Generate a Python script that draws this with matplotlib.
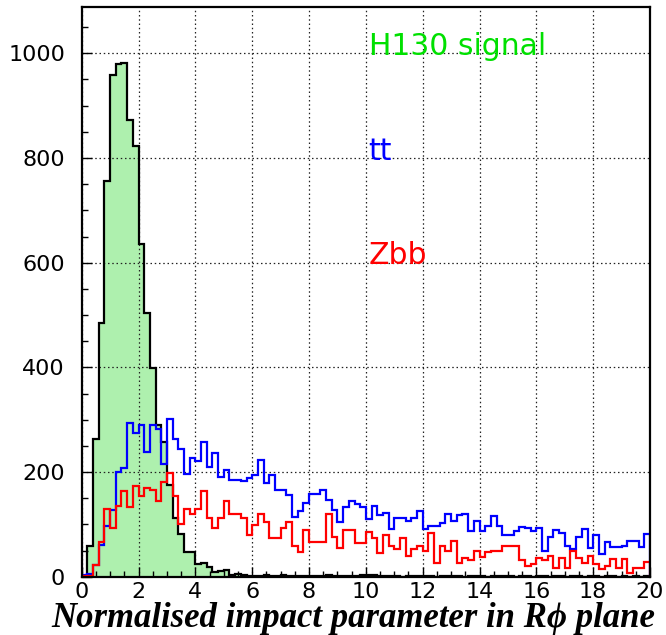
import matplotlib
matplotlib.use("Agg")
import matplotlib.pyplot as plt
import numpy as np
from matplotlib.ticker import MultipleLocator

# 100 bins of width 0.2 from 0 to 20
edges = np.linspace(0, 20, 101)

# H130 signal
signal = [0, 59, 263, 484, 756, 958, 979, 981, 872, 823,
          635, 504, 398, 290, 258, 175, 113, 81, 48, 48,
          25, 27, 19, 9, 10, 13, 4, 5, 4, 2,
          1, 2, 3, 1, 2, 3, 1, 2, 1, 1,
          2, 1, 1, 3, 1, 2, 1, 2, 1, 3,
          4, 3, 1, 2, 1, 2, 0, 1, 2, 1,
          1, 2, 0, 1, 2, 1, 1, 0, 2, 1,
          1, 0, 2, 1, 1, 2, 0, 1, 1, 0,
          1, 2, 0, 1, 1, 0, 1, 2, 0, 1,
          1, 0, 1, 1, 0, 2, 0, 1, 0, 1]

# tt background
ttbar = [3, 5, 22, 61, 96, 128, 201, 207, 293, 275,
         290, 238, 290, 283, 215, 302, 263, 244, 197, 227,
         221, 258, 210, 237, 190, 204, 185, 185, 182, 188,
         194, 223, 179, 194, 166, 166, 157, 115, 126, 141,
         158, 158, 166, 146, 128, 105, 133, 144, 139, 134,
         111, 135, 118, 122, 91, 113, 113, 107, 113, 126,
         92, 97, 97, 103, 120, 107, 117, 120, 88, 107,
         87, 97, 116, 96, 80, 80, 88, 95, 93, 88,
         94, 50, 75, 90, 83, 58, 53, 75, 91, 55,
         80, 44, 67, 56, 56, 58, 68, 69, 56, 82]

# Zbb background
zbb = [1, 2, 22, 66, 130, 94, 135, 164, 134, 174,
       155, 169, 166, 144, 180, 199, 155, 100, 130, 120,
       129, 164, 113, 94, 113, 144, 120, 120, 112, 80,
       99, 120, 104, 73, 73, 94, 105, 59, 48, 90,
       66, 66, 66, 119, 75, 55, 90, 90, 65, 65,
       85, 74, 46, 80, 58, 53, 74, 40, 53, 59,
       50, 83, 27, 59, 50, 68, 27, 35, 32, 50,
       37, 47, 50, 50, 59, 59, 59, 31, 21, 25,
       36, 32, 40, 17, 36, 17, 50, 36, 26, 40,
       24, 15, 21, 34, 16, 34, 8, 16, 16, 29]

plt.rcParams['hatch.linewidth'] = 0.9
plt.rcParams['hatch.color'] = '#10dd10'

fig = plt.figure(figsize=(6.66, 6.35), dpi=100)
ax = fig.add_axes([0.1227, 0.0918, 0.8533, 0.8976])

# filled signal with hatched pattern, outline drawn separately
ax.stairs(signal, edges, fill=True, facecolor='#aef0ae', edgecolor='none',
          hatch='--------', zorder=1)
ax.grid(True, which='major', color='#222222', linestyle=(0, (1.2, 2.2)),
        linewidth=0.9, zorder=2)
ax.set_axisbelow(False)
ax.stairs(signal, edges, color='black', linewidth=1.6, zorder=3)
ax.stairs(ttbar, edges, color='#0000ff', linewidth=1.6, zorder=4)
ax.stairs(zbb, edges, color='#ff0000', linewidth=1.6, zorder=5)

ax.set_xlim(0, 20)
ax.set_ylim(0, 1089)
ax.xaxis.set_major_locator(MultipleLocator(2))
ax.xaxis.set_minor_locator(MultipleLocator(0.5))
ax.yaxis.set_major_locator(MultipleLocator(200))
ax.yaxis.set_minor_locator(MultipleLocator(50))
ax.tick_params(which='both', direction='in', top=False, right=False,
               width=1.0, color='black')
ax.tick_params(which='major', length=7)
ax.tick_params(which='minor', length=4)
ax.tick_params(axis='x', which='major', pad=4, labelsize=16)
ax.tick_params(axis='y', which='major', pad=12, labelsize=16)
for lab in ax.get_xticklabels() + ax.get_yticklabels():
    lab.set_family('DejaVu Sans')
for sp in ax.spines.values():
    sp.set_linewidth(1.6)
    sp.set_zorder(6)

ax.text(10.1, 997, 'H130 signal', color='#00e000', fontsize=21.5,
        family='DejaVu Sans', va='baseline', zorder=7)
ax.text(10.1, 797, 'tt', color='#0000ff', fontsize=21.5,
        family='DejaVu Sans', va='baseline', zorder=7)
ax.text(10.1, 597, 'Zbb', color='#ff0000', fontsize=21.5,
        family='DejaVu Sans', va='baseline', zorder=7)

fig.text(0.53, 0.013, 'Normalised impact parameter in R\u03d5 plane',
         fontsize=25, fontweight='bold', style='italic',
         family=['Liberation Serif', 'DejaVu Serif'], ha='center', va='baseline')

fig.savefig('out.png', dpi=100)
